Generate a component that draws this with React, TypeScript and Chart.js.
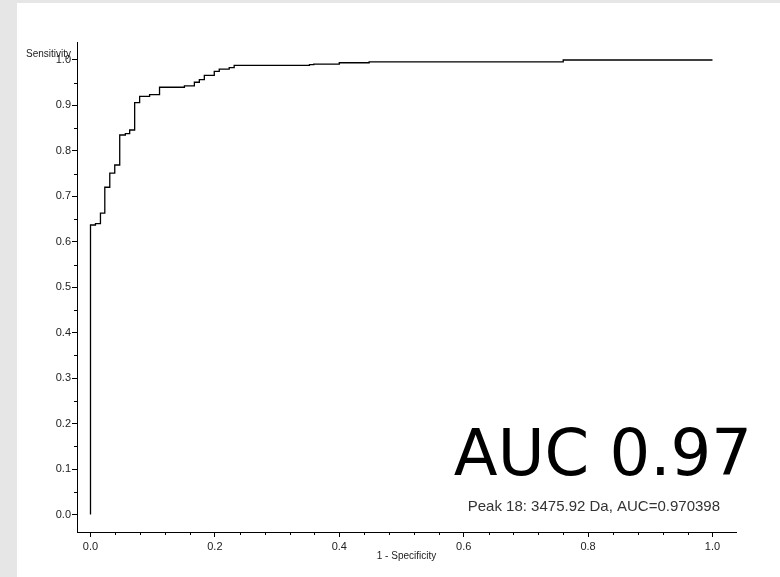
import React, { useEffect, useRef } from "react";
import { Chart, registerables } from "chart.js";

Chart.register(...registerables);

// ROC curve corner points (1 - specificity, sensitivity)
const fpr = [0, 0, 0.008, 0.016, 0.023, 0.031, 0.039, 0.047, 0.056, 0.063, 0.071, 0.079, 0.095, 0.111, 0.151, 0.167, 0.175, 0.183, 0.199, 0.207, 0.223, 0.231, 0.352, 0.359, 0.4, 0.448, 0.76, 1.0];
const tpr = [0, 0.637, 0.64, 0.663, 0.72, 0.751, 0.769, 0.835, 0.838, 0.846, 0.906, 0.92, 0.924, 0.94, 0.943, 0.951, 0.957, 0.966, 0.975, 0.98, 0.983, 0.988, 0.99, 0.991, 0.994, 0.996, 1.0, 1.0];

const xTicks = [0, 0.2, 0.4, 0.6, 0.8, 1.0];
const yTicks = [0, 0.1, 0.2, 0.3, 0.4, 0.5, 0.6, 0.7, 0.8, 0.9, 1.0];
const xMinorTicks = [0.04, 0.08, 0.12, 0.16, 0.24, 0.28, 0.32, 0.36, 0.44, 0.48, 0.52, 0.56, 0.64, 0.68, 0.72, 0.76, 0.84, 0.88, 0.92, 0.96];
const yMinorTicks = [0.05, 0.15, 0.25, 0.35, 0.45, 0.55, 0.65, 0.75, 0.85, 0.95];

const xTitle = "1 - Specificity";
const yTitle = "Sensitivity";
const bigLabel = "AUC 0.97";
const peakLabel = "Peak 18: 3475.92 Da, AUC=0.970398";

const labelFont = "'Liberation Sans', Arial, sans-serif";

export default function App() {
  const ref = useRef<HTMLCanvasElement | null>(null);

  useEffect(() => {
    if (!ref.current) return;
    const overlay = {
      id: "overlay",
      afterDraw(chart: any) {
        const ctx = chart.ctx;
        const xs = chart.scales.x;
        const ys = chart.scales.y;
        const area = chart.chartArea;
        ctx.save();
        ctx.strokeStyle = "#000";
        ctx.lineWidth = 1;
        ctx.beginPath();
        xMinorTicks.forEach((v) => {
          const px = Math.round(xs.getPixelForValue(v)) + 0.5;
          ctx.moveTo(px, area.bottom);
          ctx.lineTo(px, area.bottom + 3);
        });
        yMinorTicks.forEach((v) => {
          const py = Math.round(ys.getPixelForValue(v)) + 0.5;
          ctx.moveTo(area.left - 3, py);
          ctx.lineTo(area.left, py);
        });
        ctx.stroke();

        // y title
        ctx.fillStyle = "#222";
        ctx.font = `10px ${labelFont}`;
        ctx.textAlign = "left";
        ctx.textBaseline = "middle";
        ctx.fillText(yTitle, 9, ys.getPixelForValue(1.0) - 6);

        // Big AUC text
        ctx.fillStyle = "#000";
        ctx.font = "64px 'DejaVu Sans', sans-serif";
        ctx.textAlign = "right";
        ctx.textBaseline = "alphabetic";
        ctx.fillText(bigLabel, 752 - 17, 475 - 3);

        // Peak text
        ctx.fillStyle = "#333";
        ctx.font = `15px ${labelFont}`;
        ctx.textAlign = "right";
        ctx.textBaseline = "middle";
        ctx.fillText(peakLabel, 720 - 17, 507 - 3);
        ctx.restore();
      },
    };

    const chart = new Chart(ref.current, {
      type: "line",
      data: {
        datasets: [
          {
            data: fpr.map((x, i) => ({ x, y: tpr[i] })),
            stepped: true,
            borderColor: "#000",
            borderWidth: 1.3,
            pointRadius: 0,
            fill: false,
          },
        ],
      },
      options: {
        animation: false,
        responsive: false,
        layout: { padding: { top: 39, left: 0, right: 44, bottom: 0 } },
        plugins: { legend: { display: false }, tooltip: { enabled: false } },
        scales: {
          x: {
            type: "linear",
            min: -0.0217,
            max: 1.0378,
            afterFit: (s: any) => {
              s.height = 45;
            },
            afterBuildTicks: (s: any) => {
              s.ticks = xTicks.map((value) => ({ value }));
            },
            grid: { display: true, drawOnChartArea: false, drawTicks: true, tickLength: 5, color: "#000" },
            border: { display: true, color: "#000", width: 1 },
            ticks: {
              padding: 3,
              color: "#222",
              font: { family: labelFont, size: 11 },
              maxRotation: 0,
              callback: (v: any) => Number(v).toFixed(1),
            },
            title: {
              display: true,
              text: xTitle,
              color: "#222",
              font: { family: labelFont, size: 10 },
              padding: { top: 0, bottom: 15 },
            },
          },
          y: {
            type: "linear",
            min: -0.0385,
            max: 1.0396,
            afterFit: (s: any) => {
              s.width = 60;
            },
            afterBuildTicks: (s: any) => {
              s.ticks = yTicks.map((value) => ({ value }));
            },
            grid: { display: true, drawOnChartArea: false, drawTicks: true, tickLength: 5, color: "#000" },
            border: { display: true, color: "#000", width: 1 },
            ticks: {
              padding: 1,
              color: "#222",
              font: { family: labelFont, size: 11 },
              callback: (v: any) => Number(v).toFixed(1),
            },
          },
        },
      },
      plugins: [overlay],
    });
    return () => chart.destroy();
  }, []);

  return (
    <div style={{ position: "fixed", left: 0, top: 0, width: 780, height: 577, background: "#e6e6e6" }}>
      <canvas
        ref={ref}
        width={763}
        height={574}
        style={{ position: "absolute", left: 17, top: 3, width: 763, height: 574, background: "#fff" }}
      />
    </div>
  );
}
